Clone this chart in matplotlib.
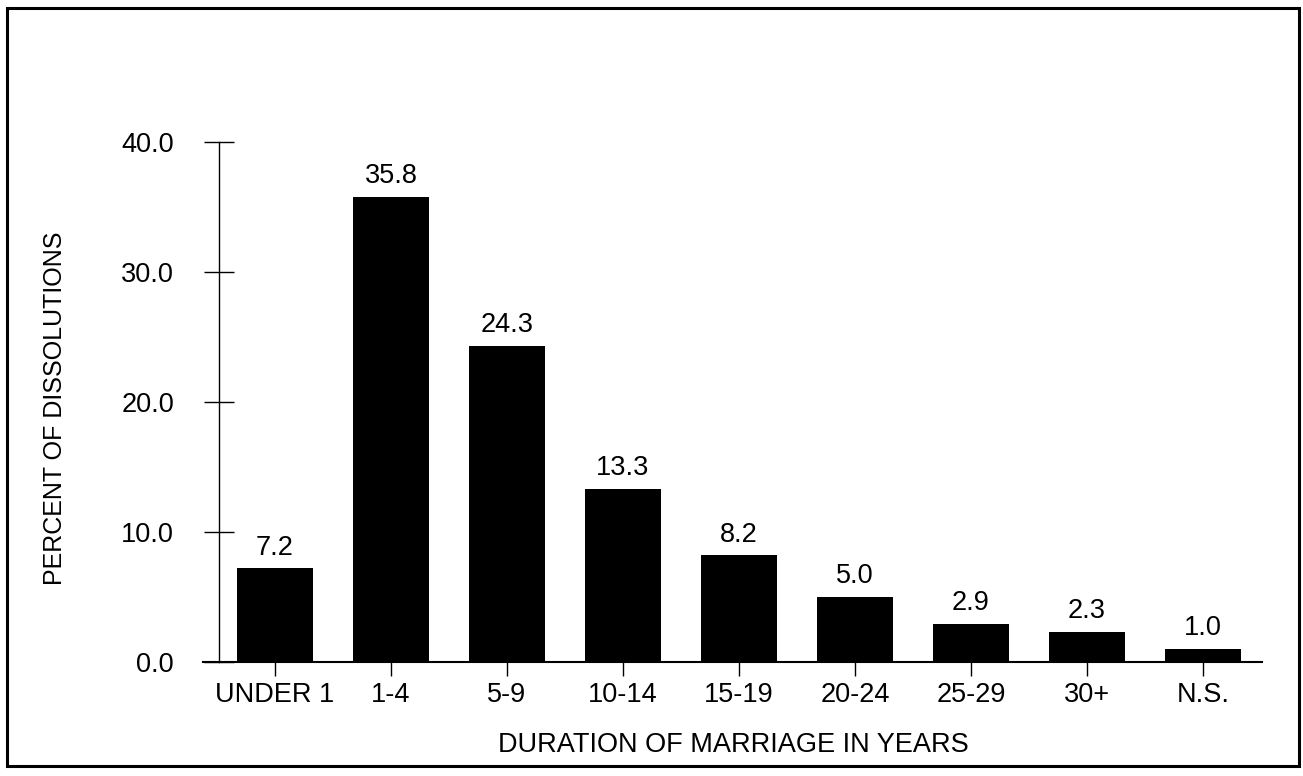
import matplotlib.pyplot as plt
from matplotlib.patches import Rectangle

# data
categories = ['UNDER 1', '1-4', '5-9', '10-14', '15-19', '20-24', '25-29', '30+', 'N.S.']
values = [7.2, 35.8, 24.3, 13.3, 8.2, 5.0, 2.9, 2.3, 1.0]
yticks = [0, 10, 20, 30, 40]

plt.rcParams['font.family'] = ['Liberation Sans', 'DejaVu Sans']
fs = 19.5

W, H = 1303, 776
fig = plt.figure(figsize=(W / 100, H / 100), dpi=100)
ax = fig.add_axes([203 / W, 1 - 662 / H, (1262 - 203) / W, (662 - 142) / H])

x = list(range(len(categories)))
ax.bar(x, values, width=0.66, color='black')
for xi, v in zip(x, values):
    ax.annotate(f'{v:.1f}', (xi, v), xytext=(0, 10), textcoords='offset points',
                ha='center', va='baseline', fontsize=fs)

ax.set_xlim(-0.62, 8.51)
ax.set_ylim(0, 40)
ax.spines['top'].set_visible(False)
ax.spines['right'].set_visible(False)
ax.spines['left'].set_position(('data', -0.48))
ax.spines['left'].set_linewidth(1)
ax.spines['bottom'].set_linewidth(1.5)

ax.set_xticks(x)
ax.set_xticklabels(categories, fontsize=fs)
ax.set_yticks(yticks)
ax.set_yticklabels([f'{t:.1f}' for t in yticks], fontsize=fs)
ax.tick_params(axis='y', direction='inout', length=21, width=1, pad=22)
ax.tick_params(axis='x', direction='out', length=10, width=1, pad=4.5)

fig.text(733 / W, 1 - 752 / H, 'DURATION OF MARRIAGE IN YEARS', ha='center', va='baseline', fontsize=fs)
fig.text(55 / W, 1 - 408 / H, 'PERCENT OF DISSOLUTIONS', ha='center', va='center',
         rotation=90, fontsize=18)

# frame around the whole chart
fig.patches.append(Rectangle((7 / W, 1 - 766 / H), (1299 - 7) / W, (766 - 8) / H,
                             transform=fig.transFigure, fill=False, lw=2.2, ec='black'))

fig.savefig('out.png', dpi=100)
